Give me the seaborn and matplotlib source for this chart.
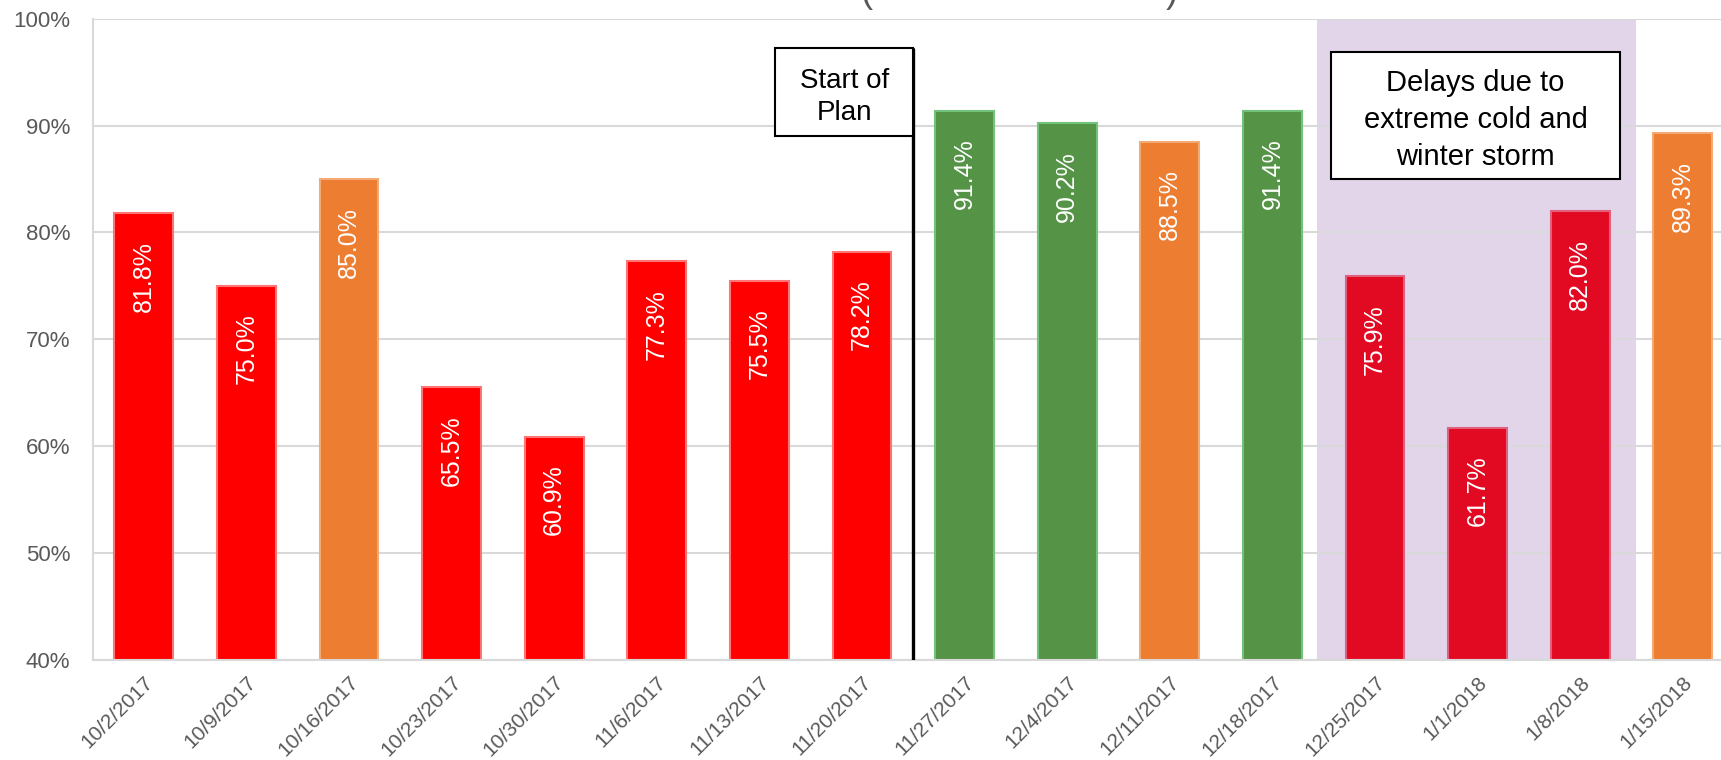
import matplotlib
matplotlib.use("Agg")
import matplotlib.pyplot as plt
import seaborn as sns
from matplotlib.patches import Rectangle

# weekly values
weeks = ["10/2/2017", "10/9/2017", "10/16/2017", "10/23/2017", "10/30/2017",
         "11/6/2017", "11/13/2017", "11/20/2017", "11/27/2017", "12/4/2017",
         "12/11/2017", "12/18/2017", "12/25/2017", "1/1/2018", "1/8/2018",
         "1/15/2018"]
pct = [81.8, 75.0, 85.0, 65.5, 60.9, 77.3, 75.5, 78.2, 91.4, 90.2,
       88.5, 91.4, 75.9, 61.7, 82.0, 89.3]
status = ["red", "red", "orange", "red", "red", "red", "red", "red",
          "green", "green", "orange", "green", "storm", "storm", "storm",
          "orange"]

fill = {"red": "#FF0000", "orange": "#ED7D31", "green": "#559347", "storm": "#E20A22"}
edge = {"red": "#FF7575", "orange": "#F4AA74", "green": "#72C27C", "storm": "#E0607E"}

grey = "#595959"

sns.set_theme(style="white")
plt.rcParams["font.family"] = ["Liberation Sans", "DejaVu Sans"]

fig = plt.figure(figsize=(17.21, 7.6), dpi=100)
ax = fig.add_axes([92.5 / 1721, 100 / 760, 1641.6 / 1721, 641.3 / 760])

sns.barplot(x=weeks, y=pct, hue=weeks, palette=[fill[s] for s in status],
            saturation=1, legend=False, width=0.575, ax=ax, zorder=2)
for cont, s in zip(ax.containers, status):
    for patch in cont:
        patch.set_edgecolor(edge[s])
        patch.set_linewidth(1.5)

# storm period shading
ax.axvspan(11.437, 14.541, facecolor="#E2D5EA", edgecolor="none", zorder=0.5, lw=0)

for i, v in enumerate(pct):
    ax.annotate(f"{v:.1f}%", (i, v), xytext=(0, -20), textcoords="offset points",
                rotation=90, ha="center", va="top", color="white", fontsize=18,
                zorder=3)

ax.set_ylim(40, 100)
ax.set_xlim(-0.5, 15.5)
ax.set_yticks([40, 50, 60, 70, 80, 90, 100])
ax.set_yticklabels([f"{t}%" for t in range(40, 101, 10)])
ax.yaxis.grid(True, color="#D9D9D9", lw=1.5, zorder=1)
ax.set_axisbelow(True)
ax.tick_params(axis="y", length=0, pad=16, labelsize=16, labelcolor=grey)
ax.tick_params(axis="x", length=0, pad=9, labelsize=15, labelcolor=grey)
plt.setp(ax.get_xticklabels(), rotation=45, ha="right", va="top",
         rotation_mode="anchor")
ax.set_xlabel("")
ax.set_ylabel("")
for side in ["top", "right"]:
    ax.spines[side].set_visible(False)
ax.spines["left"].set_color("#D9D9D9")
ax.spines["bottom"].set_color("#D9D9D9")
ax.spines["left"].set_linewidth(1.5)
ax.spines["bottom"].set_linewidth(1.5)

# start of plan marker
ax.plot([7.5, 7.5], [40, 97.2], color="black", lw=2.4, zorder=4)
ax.add_patch(Rectangle((6.152, 89.02), 7.5 - 6.152, 97.26 - 89.02,
                       facecolor="white", edgecolor="black", lw=1.5, zorder=4))
ax.text(6.83, 92.7, "Start of\nPlan", ha="center", va="center", fontsize=20,
        color="black", linespacing=1.3, zorder=5)

# storm annotation
ax.add_patch(Rectangle((11.571, 85.0), 14.388 - 11.571, 96.92 - 85.0,
                       facecolor="white", edgecolor="black", lw=1.5, zorder=4))
ax.text(12.98, 90.55, "Delays due to\nextreme cold and\nwinter storm",
        ha="center", va="center", fontsize=21, color="black",
        linespacing=1.4, zorder=5)

# title mostly cut off by the top edge, only the parentheses show
fig.text(867 / 1721, 1 - 2 / 760, "(", fontsize=26, color=grey, ha="center",
         va="baseline")
fig.text(1172 / 1721, 1 - 2 / 760, ")", fontsize=26, color=grey, ha="center",
         va="baseline")

fig.savefig("out.png", dpi=100)
